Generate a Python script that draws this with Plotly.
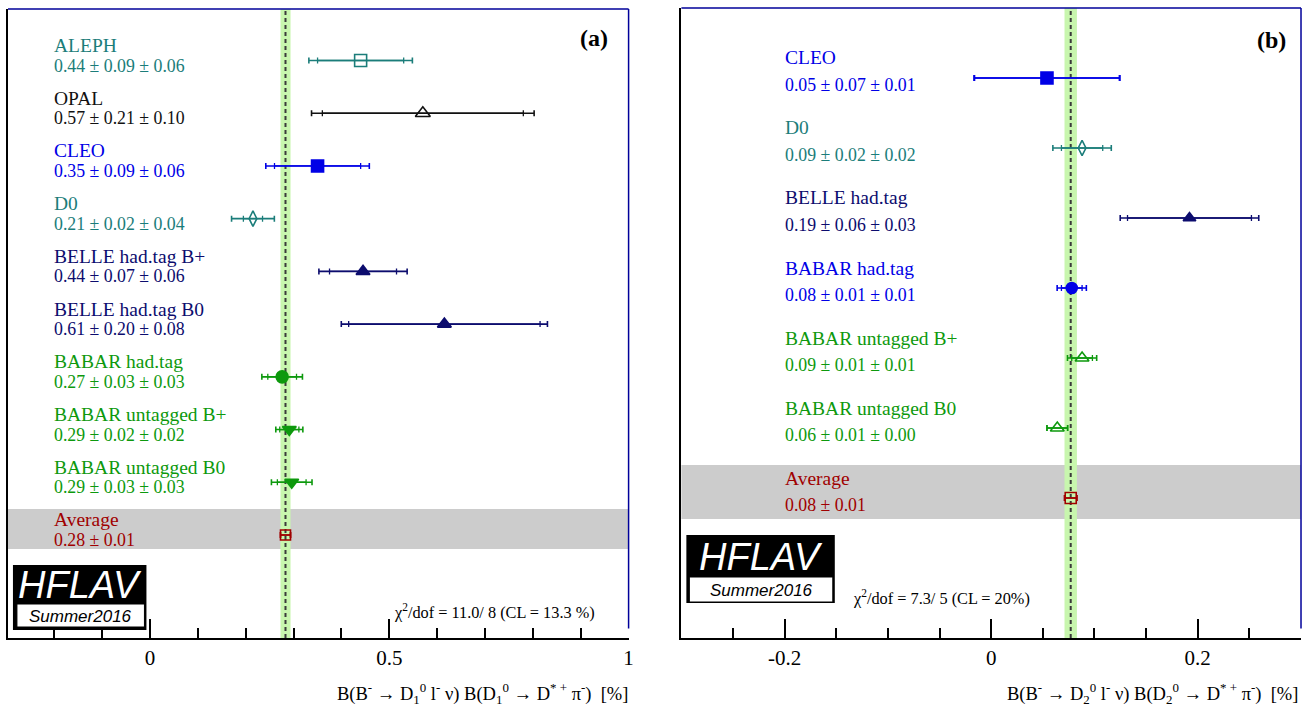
import math
import plotly.graph_objects as go

# ---------------- data: panel (a) ----------------
a_names = ["ALEPH", "OPAL", "CLEO", "D0", "BELLE had.tag B+", "BELLE had.tag B0",
           "BABAR had.tag", "BABAR untagged B+", "BABAR untagged B0", "Average"]
a_values = [0.44, 0.57, 0.35, 0.215, 0.445, 0.615, 0.276, 0.291, 0.296, 0.283]
a_stat = [0.09, 0.21, 0.09, 0.02, 0.07, 0.20, 0.03, 0.02, 0.03, 0.0105]
a_syst = [0.06, 0.10, 0.06, 0.04, 0.06, 0.08, 0.03, 0.02, 0.03, 0.0]
a_text = ["0.44 ± 0.09 ± 0.06", "0.57 ± 0.21 ± 0.10", "0.35 ± 0.09 ± 0.06",
          "0.21 ± 0.02 ± 0.04", "0.44 ± 0.07 ± 0.06", "0.61 ± 0.20 ± 0.08",
          "0.27 ± 0.03 ± 0.03", "0.29 ± 0.02 ± 0.02", "0.29 ± 0.03 ± 0.03",
          "0.28 ± 0.01"]
a_chi2 = "χ<sup>2</sup>/dof = 11.0/ 8 (CL = 13.3 %)"
a_ticks = [0, 0.5, 1]
a_ticktext = ["0", "0.5", "1"]
a_title = ("B(B<sup>-</sup> → D<sub>1</sub><sup>0</sup> l<sup>-</sup> ν) "
           "B(D<sub>1</sub><sup>0</sup> → D<sup>* +</sup> π<sup>-</sup>)&nbsp;&nbsp;[%]")

# ---------------- data: panel (b) ----------------
b_names = ["CLEO", "D0", "BELLE had.tag", "BABAR had.tag",
           "BABAR untagged B+", "BABAR untagged B0", "Average"]
b_values = [0.054, 0.088, 0.192, 0.078, 0.088, 0.064, 0.077]
b_stat = [0.07, 0.02, 0.06, 0.01, 0.01, 0.01, 0.006]
b_syst = [0.01, 0.02, 0.03, 0.01, 0.01, 0.0, 0.0]
b_text = ["0.05 ± 0.07 ± 0.01", "0.09 ± 0.02 ± 0.02", "0.19 ± 0.06 ± 0.03",
          "0.08 ± 0.01 ± 0.01", "0.09 ± 0.01 ± 0.01", "0.06 ± 0.01 ± 0.00",
          "0.08 ± 0.01"]
b_chi2 = "χ<sup>2</sup>/dof = 7.3/ 5 (CL = 20%)"
b_ticks = [-0.2, 0, 0.2]
b_ticktext = ["-0.2", "0", "0.2"]
b_title = ("B(B<sup>-</sup> → D<sub>2</sub><sup>0</sup> l<sup>-</sup> ν) "
           "B(D<sub>2</sub><sup>0</sup> → D<sup>* +</sup> π<sup>-</sup>)&nbsp;&nbsp;[%]")

# ---------------- styles ----------------
TEAL = "#1b7d7a"
BLACK = "#111111"
BLUE = "#0000e6"
NAVY = "#0c0c6e"
GREEN = "#0d990d"
RED = "#a00000"
FRAME_BLUE = "#00009a"
GRAY_BAND = "#cccccc"
GREEN_BAND = "#c8f6ae"
SERIF = "Liberation Serif"
SANS = "Liberation Sans"

a_colors = [TEAL, BLACK, BLUE, TEAL, NAVY, NAVY, GREEN, GREEN, GREEN, RED]
a_symbols = ["square-open", "triangle-up-open", "square", "diamond-tall-open",
             "triangle-up", "triangle-up", "circle", "triangle-down", "triangle-down",
             "square-open"]
a_sizes = [12, 13, 12, 11, 12, 12, 12, 12, 12, 10]

b_colors = [BLUE, TEAL, NAVY, BLUE, GREEN, GREEN, RED]
b_symbols = ["square", "diamond-tall-open", "triangle-up", "circle",
             "triangle-up-open", "triangle-up-open", "square-open"]
b_sizes = [12, 11, 11, 11, 12, 12, 11]

W, H = 1309, 714


def X(px):
    return px / W


def Y(py):
    return 1 - py / H


fig = go.Figure()
shapes = []
annotations = []


def add_panel(xa, ya, names, values, stat, syst, texts, colors, symbols, sizes,
              name_shift, value_shift, band_y, chi2, chi2_pos, tag, tag_pos,
              title, title_pos, logo):
    xref = "x" if xa == "xaxis" else "x2"
    yref = "y" if ya == "yaxis" else "y2"
    avg_val = values[-1]
    avg_err = stat[-1]
    # background bands
    shapes.append(dict(type="rect", xref=f"{xref} domain", x0=0, x1=1, yref=yref,
                       y0=band_y[0], y1=band_y[1], fillcolor=GRAY_BAND,
                       line=dict(width=0), layer="below"))
    shapes.append(dict(type="rect", xref=xref, x0=avg_val - avg_err, x1=avg_val + avg_err,
                       yref=f"{yref} domain", y0=0, y1=1, fillcolor=GREEN_BAND,
                       line=dict(width=0), layer="below"))
    shapes.append(dict(type="line", xref=xref, x0=avg_val, x1=avg_val,
                       yref=f"{yref} domain", y0=0, y1=1,
                       line=dict(color="#3a3a3a", width=2, dash="4px,3px"), layer="below"))
    # frame top / right
    shapes.append(dict(type="line", xref=f"{xref} domain", x0=0, x1=1,
                       yref=f"{yref} domain", y0=1, y1=1,
                       line=dict(color=FRAME_BLUE, width=1.5), layer="above"))
    shapes.append(dict(type="line", xref=f"{xref} domain", x0=1, x1=1,
                       yref=f"{yref} domain", y0=0.015, y1=1,
                       line=dict(color=FRAME_BLUE, width=1.5), layer="above"))
    for i, nm in enumerate(names):
        tot = math.sqrt(stat[i] ** 2 + syst[i] ** 2)
        c = colors[i]
        fig.add_trace(go.Scatter(
            x=[values[i]], y=[nm], xaxis=xref, yaxis=yref, mode="markers",
            marker=dict(size=0.1, opacity=0, color=c),
            error_x=dict(type="data", array=[stat[i]], color=c, thickness=1.3, width=3),
            showlegend=False, hoverinfo="skip"))
        fig.add_trace(go.Scatter(
            x=[values[i]], y=[nm], xaxis=xref, yaxis=yref, mode="markers",
            marker=dict(size=sizes[i], symbol=symbols[i], color=c,
                        line=dict(color=c, width=1.6)),
            error_x=dict(type="data", array=[tot], color=c, thickness=1.6, width=3),
            showlegend=False, name=nm))
        annotations.append(dict(xref=xref, yref=yref, x=-0.2, y=nm, xanchor="left",
                                yanchor="middle", yshift=name_shift, xshift=-2, text=nm,
                                showarrow=False, font=dict(family=SERIF, size=19.5, color=c)))
        annotations.append(dict(xref=xref, yref=yref, x=-0.2, y=nm, xanchor="left",
                                yanchor="middle", yshift=value_shift, xshift=-2, text=texts[i],
                                showarrow=False, font=dict(family=SERIF, size=17.8, color=c)))
    annotations.append(dict(xref="paper", yref="paper", x=X(chi2_pos[0]), y=Y(chi2_pos[1]),
                            xanchor="left", yanchor="middle", text=chi2, showarrow=False,
                            font=dict(family=SERIF, size=16.3, color="black")))
    annotations.append(dict(xref="paper", yref="paper", x=X(tag_pos[0]), y=Y(tag_pos[1]),
                            xanchor="center", yanchor="middle", text="<b>" + tag + "</b>",
                            showarrow=False, font=dict(family=SERIF, size=24, color="black")))
    annotations.append(dict(xref="paper", yref="paper", x=X(title_pos[0]), y=Y(title_pos[1]),
                            xanchor="right", yanchor="middle", text=title, showarrow=False,
                            font=dict(family=SERIF, size=18.5, color="black")))
    # HFLAV logo
    bx0, bx1, by0, by1, wy0, wx0, wx1, wy1, hy, sy = logo
    shapes.append(dict(type="rect", xref="paper", yref="paper", x0=X(bx0), x1=X(bx1),
                       y0=Y(by1), y1=Y(by0), fillcolor="black", line=dict(width=0),
                       layer="above"))
    shapes.append(dict(type="rect", xref="paper", yref="paper", x0=X(wx0), x1=X(wx1),
                       y0=Y(wy1), y1=Y(wy0), fillcolor="white",
                       line=dict(color="black", width=1), layer="above"))
    annotations.append(dict(xref="paper", yref="paper", x=X((bx0 + bx1) / 2), y=Y(hy),
                            xanchor="center", yanchor="middle", text="<i>HFLAV</i>",
                            showarrow=False, font=dict(family=SANS, size=38, color="white")))
    annotations.append(dict(xref="paper", yref="paper", x=X((wx0 + wx1) / 2), y=Y(sy),
                            xanchor="center", yanchor="middle", text="<i>Summer2016</i>",
                            showarrow=False, font=dict(family=SANS, size=17, color="black")))


add_panel("xaxis", "yaxis", a_names, a_values, a_stat, a_syst, a_text, a_colors,
          a_symbols, a_sizes, name_shift=15, value_shift=-5, band_y=(8.507, 9.266),
          chi2=a_chi2, chi2_pos=(394, 611), tag="(a)", tag_pos=(596, 38),
          title=a_title, title_pos=(632, 693),
          logo=(13, 147, 565, 630, 604, 17, 145, 627, 585, 616))
add_panel("xaxis2", "yaxis2", b_names, b_values, b_stat, b_syst, b_text, b_colors,
          b_symbols, b_sizes, name_shift=20, value_shift=-7, band_y=(5.53, 6.3),
          chi2=b_chi2, chi2_pos=(854, 597), tag="(b)", tag_pos=(1276, 40),
          title=b_title, title_pos=(1305, 693),
          logo=(689, 838, 535, 603, 577, 692, 836, 602, 557, 590))


def xaxis_style(domain, rng, tickvals, ticktext, minor_dtick, anchor):
    return dict(domain=domain, range=rng, anchor=anchor, tickmode="array",
                tickvals=tickvals, ticktext=ticktext, ticks="inside", ticklen=19,
                tickwidth=1.5, tickcolor="black",
                minor=dict(tickmode="linear", tick0=0, dtick=minor_dtick, ticks="inside",
                           ticklen=10, tickwidth=1.5, tickcolor="black", showgrid=False),
                showgrid=False, zeroline=False, showline=True, linecolor="black",
                linewidth=2, tickfont=dict(family=SERIF, size=21, color="black"),
                fixedrange=True)


def yaxis_style(domain, names, rng, anchor):
    return dict(domain=domain, type="category", categoryorder="array",
                categoryarray=names, range=rng, anchor=anchor, showticklabels=False,
                ticks="", showgrid=False, zeroline=False, showline=True,
                linecolor="black", linewidth=2, fixedrange=True)


fig.update_layout(
    width=W, height=H, margin=dict(l=0, r=0, t=0, b=0),
    paper_bgcolor="white", plot_bgcolor="white", showlegend=False,
    xaxis=xaxis_style([X(8), X(631)], [-0.297, 1.0], a_ticks, a_ticktext, 0.1, "y"),
    yaxis=yaxis_style([Y(638), Y(9)], a_names, [10.954, -0.977], "x"),
    xaxis2=xaxis_style([X(684), X(1306)], [-0.3, 0.3], b_ticks, b_ticktext, 0.05, "y2"),
    yaxis2=yaxis_style([Y(638), Y(8)], b_names, [8.0, -1.0], "x2"),
    shapes=shapes, annotations=annotations,
)

fig.write_html(
    "out.html",
    config={"displayModeBar": False},
    post_script="document.body.style.margin='0';document.body.style.overflow='hidden';",
)
